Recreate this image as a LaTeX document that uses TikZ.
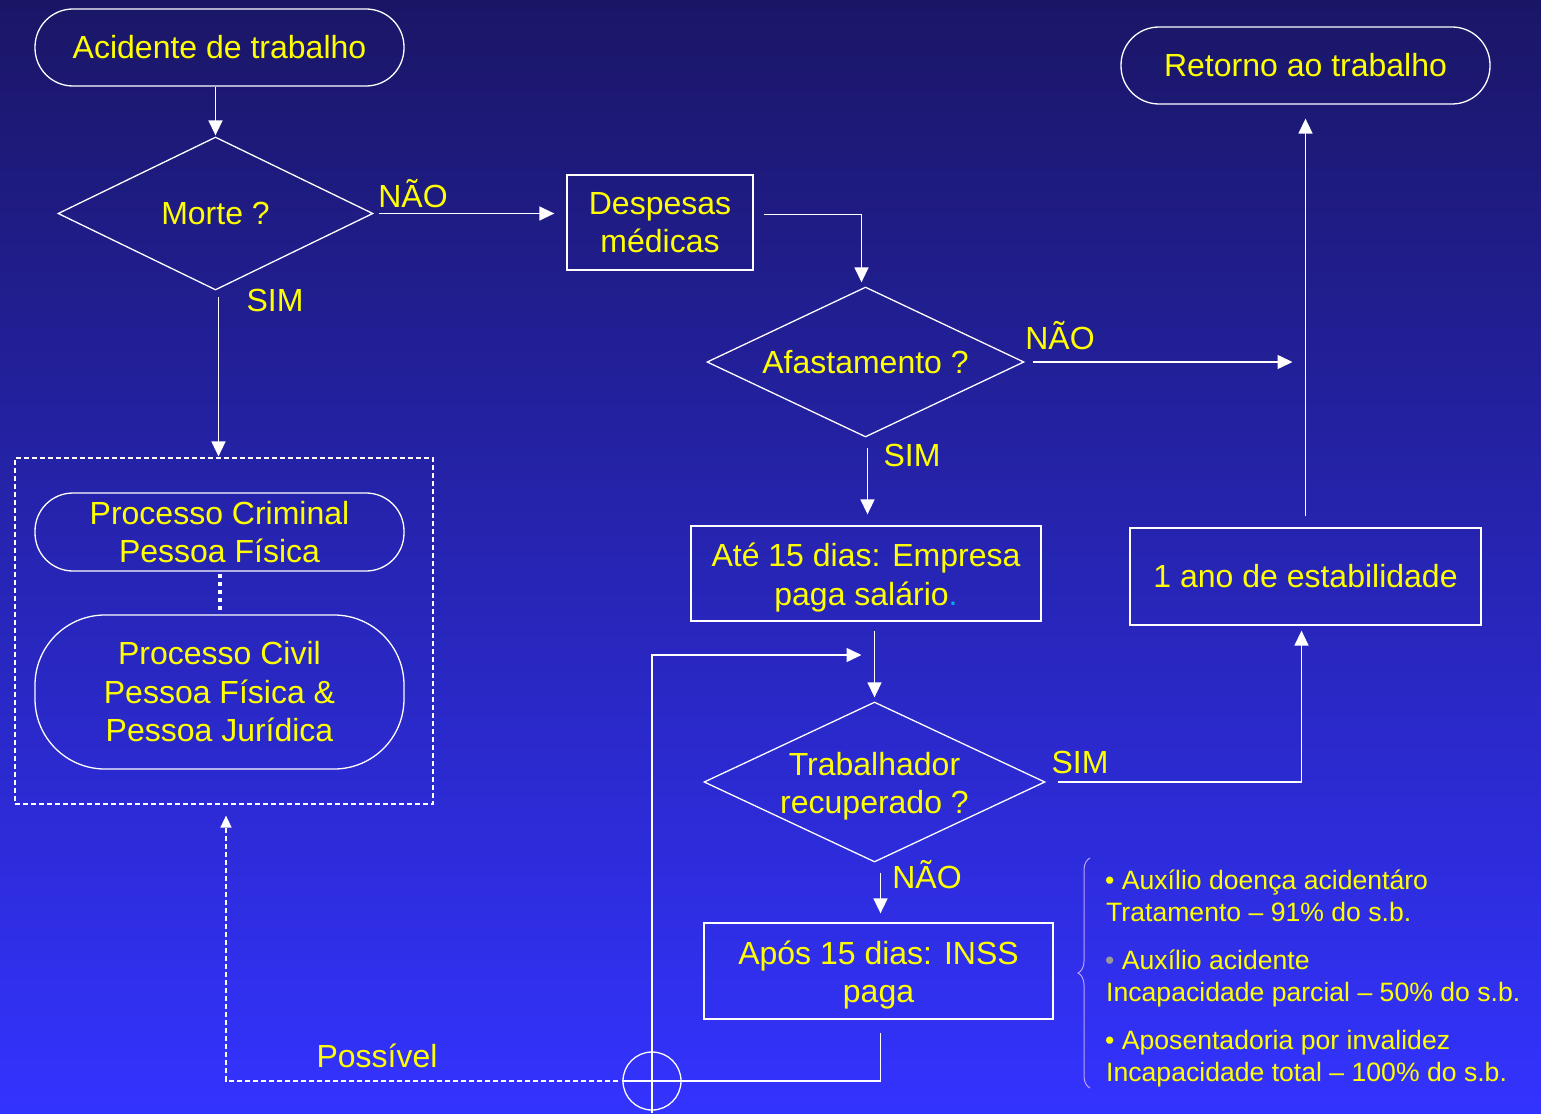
\documentclass[tikz,border=0pt]{standalone}
\usepackage{fontspec}
\setmainfont{Liberation Sans}
\usetikzlibrary{arrows.meta,shapes.geometric,decorations.pathreplacing}
\definecolor{bgtop}{RGB}{26,22,102}
\definecolor{bgbot}{RGB}{51,51,255}
\definecolor{ytext}{RGB}{255,255,0}
\definecolor{bracec}{RGB}{190,160,255}
\begin{document}
\begin{tikzpicture}[x=1pt,y=-1pt,
  txt/.style={text=ytext, font=\fontsize{32}{38.5}\selectfont, align=center},
  lbl/.style={txt, inner sep=0pt},
  stad/.style={draw=white, line width=1.3pt, rounded corners=38pt, minimum width=369pt, minimum height=77pt, inner sep=0pt, txt},
  boxs/.style={draw=white, line width=1.3pt, rectangle, inner sep=0pt, txt},
  dia/.style={diamond, draw=white, line width=1.3pt, inner sep=0pt},
  con/.style={draw=white, line width=1.5pt},
  arr/.style={con, -{Triangle[length=15pt,width=14pt]}},
  darr/.style={con, dash pattern=on 5pt off 3pt, -{Triangle[length=12pt,width=11pt]}},
  bul/.style={anchor=base west, inner sep=0pt, text=ytext, font=\fontsize{26.6}{32}\selectfont}
]
\shade[top color=bgtop,bottom color=bgbot] (0,0) rectangle (1541,1113);
\useasboundingbox (0,0) rectangle (1541,1113);

% nodes
\node[stad] (acid) at (219.5,47.5) {Acidente de trabalho};
\node[dia, minimum width=315pt, minimum height=153pt] (morte) at (215.5,213.5) {};
\node[lbl] (morteT) at (morte.center) {Morte ?};
\node[boxs, minimum width=186pt, minimum height=95pt] (desp) at (660,222.5) {Despesas\\médicas};
\node[dia, minimum width=317pt, minimum height=150pt] (afast) at (865.5,362) {};
\node[lbl] (afastT) at (afast.center) {Afastamento ?};
\node[stad] (ret) at (1305.5,65.5) {Retorno ao trabalho};
\node[boxs, minimum width=350pt, minimum height=95pt] (ate) at (866,573.5) {};
\node[lbl] (ateT) at ([yshift=-4pt]ate.center) {Até 15 dias: Empresa\\paga salário\textcolor{cyan}{.}};
\node[boxs, minimum width=351pt, minimum height=97pt] (ano) at (1305.5,576.5) {1 ano de estabilidade};
\node[dia, minimum width=341pt, minimum height=160pt] (trab) at (874.5,782) {};
\node[lbl] (trabT) at ([yshift=-4pt]trab.center) {Trabalhador\\recuperado ?};
\node[boxs, minimum width=349pt, minimum height=96pt] (apos) at (878.5,971) {};
\node[lbl] (aposT) at ([yshift=-4pt]apos.center) {Após 15 dias: INSS\\paga};
\node[draw=white, line width=1.3pt, circle, minimum size=58pt, inner sep=0pt] (circ) at (652,1081) {};
\node[draw=white, dash pattern=on 5pt off 3pt, line width=1.2pt, minimum width=418pt, minimum height=346pt, inner sep=0pt] (grp) at (224,631) {};
\node[stad, minimum height=78pt] (crim) at (219.5,532) {Processo Criminal\\Pessoa Física};
\node[stad, minimum height=154pt, rounded corners=70pt] (civ) at (219.5,692) {Processo Civil\\Pessoa Física \&\\Pessoa Jurídica};

% labels
\node[lbl, anchor=base] (l1) at (413,207) {NÃO};
\node[lbl] (l2) at (275,300) {SIM};
\node[lbl, anchor=base] (l3) at (1060,349) {NÃO};
\node[lbl] (l4) at (912,455) {SIM};
\node[lbl] (l5) at (1080,762) {SIM};
\node[lbl, anchor=base] (l6) at (927,888) {NÃO};
\node[lbl, anchor=base] (l7) at (377,1067) {Possível};

% bullets
\node[bul] (b1) at (1105,889) {• Auxílio doença acidentáro};
\node[bul] (b2) at (1106,921) {Tratamento – 91\% do s.b.};
\node[bul] (b3) at (1105,969) {\textcolor{gray!80}{•} Auxílio acidente};
\node[bul] (b4) at (1106,1001) {Incapacidade parcial – 50\% do s.b.};
\node[bul] (b5) at (1105,1049) {• Aposentadoria por invalidez};
\node[bul] (b6) at (1106,1081) {Incapacidade total – 100\% do s.b.};
\draw[bracec, line width=1pt, decorate, decoration={brace, amplitude=12pt}] (1090,1088) -- (1090,858);

% connectors
\draw[arr, shorten >=1pt] (morte.north |- acid.south) -- (morte.north);
\draw[arr, shorten <=5pt, shorten >=12pt] (morte.east) -- (morte.east -| desp.west);
\draw[arr, shorten <=10pt, shorten >=4pt] ([yshift=8pt]desp.east) -| ([xshift=-4pt]afast.north);
\draw[arr, shorten <=8pt, shorten >=13pt] (afast.east) -- (afast.east -| ano.north);
\draw[arr, shorten <=11pt, shorten >=14pt] (ano.north) -- (ret.south);
\draw[arr, shorten <=10pt, shorten >=11pt] ([xshift=2pt]afast.south) -- ([xshift=2pt]afast.south |- ate.north);
\draw[arr, shorten <=9pt, shorten >=4pt] (trab.north |- ate.south) -- (trab.north);
\draw[arr, shorten <=12pt, shorten >=5pt] (trab.east) -| ([xshift=-4pt]ano.south);
\draw[arr, shorten <=10pt, shorten >=9pt] ([xshift=6pt]trab.south) -- ([xshift=6pt]trab.south |- apos.north);
\draw[con, shorten <=13pt] ([xshift=2pt]apos.south) |- (circ.west);
\coordinate (vb) at (652,1113);
\coordinate (vt) at (652,655);
\draw[arr, shorten >=13pt] (vb) -- (vt) -- (vt -| trab.north);
\draw[darr, shorten <=4pt, shorten >=11pt] (circ.west) -| ([xshift=2pt]grp.south);
\draw[arr, shorten <=6pt, shorten >=1pt] ([xshift=3pt]morte.south) -- ([xshift=3pt]morte.south |- grp.north);
\draw[white, line width=4pt, dash pattern=on 4pt off 4pt, shorten <=2pt, shorten >=2pt] (crim.south) -- (civ.north);
\end{tikzpicture}
\end{document}
